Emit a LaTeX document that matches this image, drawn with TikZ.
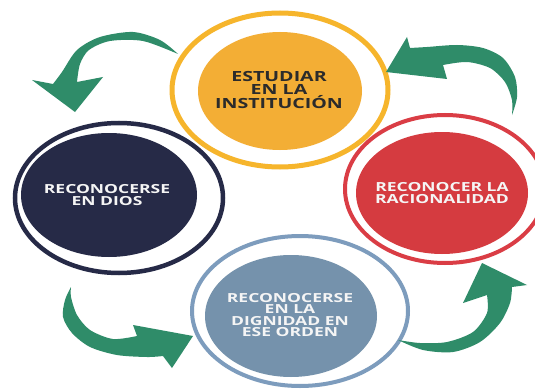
\documentclass[tikz,border=0pt]{standalone}
\usepackage{fontspec}
\newfontfamily\lblfont{Open Sans}[FakeStretch=1.4]

\definecolor{naranja}{HTML}{F3AE35}
\definecolor{naranjaring}{HTML}{F6B52C}
\definecolor{marino}{HTML}{262A47}
\definecolor{rojo}{HTML}{D53B40}
\definecolor{rojoring}{HTML}{DA3D45}
\definecolor{pizarra}{HTML}{7592AC}
\definecolor{pizarraring}{HTML}{7D9CBD}
\definecolor{verde}{HTML}{2F8C69}
\definecolor{oscuro}{HTML}{2B2B2B}

\tikzset{
  ring/.style={line width=4pt},
  bend arrow/.style={fill=verde}
}

\begin{document}
\begin{tikzpicture}[x=1pt, y=1pt]
  \useasboundingbox (0,0) rectangle (535,389);
  \fill[white] (0,0) rectangle (535,389);

  % Discs and rings
  \fill[naranja] (280,298) ellipse [x radius=82, y radius=59];
  \draw[ring, naranjaring, line width=5pt] (280,299) ellipse [x radius=108, y radius=77];

  \fill[marino] (109,194) ellipse [x radius=88, y radius=62];
  \draw[ring, marino, line width=4.5pt] (119,191) ellipse [x radius=104, y radius=75];

  \fill[rojo] (442,196) ellipse [x radius=86, y radius=61];
  \draw[ring, rojoring] (445,200) ellipse [x radius=100, y radius=74];

  \fill[pizarra] (291,73) ellipse [x radius=86, y radius=61];
  \draw[ring, pizarraring] (300,78) ellipse [x radius=108, y radius=75];

  % Labels
  \begin{scope}[every node/.style={align=center, inner sep=0pt, text=white!96!black,
      font=\lblfont\bfseries\fontsize{12.5}{11.5}\selectfont}]
    \node[text=oscuro, font=\lblfont\bfseries\fontsize{14}{12.5}\selectfont] (estudiar) at (279,299) {ESTUDIAR\\EN LA\\INSTITUCIÓN};
    \node (dios) at (107,194) {RECONOCERSE\\EN DIOS};
    \node (racionalidad) at (442,196) {RECONOCER LA\\RACIONALIDAD};
    \node (dignidad) at (290,74) {RECONOCERSE\\EN LA\\DIGNIDAD EN\\ESE ORDEN};
  \end{scope}

  % Arrows
  \fill[bend arrow] plot[smooth] coordinates {(178,335) (160,349) (133,357) (100,352) (77,339) (62,317) (53,305)}
    -- (32,309) -- (75,277) -- (103,312) -- (77,307)
    -- plot[smooth] coordinates {(77,307) (80,325) (89,339) (110,348) (143,348) (178,335)} -- cycle;

  \fill[bend arrow] plot[smooth] coordinates {(512,274) (517,292) (515,312) (503,331) (483,341) (457,344) (427,342) (410,341)}
    -- (407,352) -- (386,317) -- (447,310) -- (443,324)
    -- plot[smooth] coordinates {(443,324) (467,327) (490,321) (505,307) (512,289) (512,274)} -- cycle;

  \fill[bend arrow] plot[smooth] coordinates {(71,102) (65,89) (63,72) (72,56) (90,42) (117,34) (147,32) (163,33)}
    -- (172,21) -- (193,53) -- (133,64) -- (137,53)
    -- plot[smooth] coordinates {(137,53) (113,50) (90,59) (77,74) (71,92) (71,102)} -- cycle;

  \fill[bend arrow] plot[smooth] coordinates {(398,49) (423,39) (453,37) (480,47) (500,66) (510,86) (512,102)}
    -- (527,104) -- (482,126) -- (463,86) -- (487,94)
    -- plot[smooth] coordinates {(487,94) (487,76) (473,57) (447,47) (420,46) (398,49)} -- cycle;
\end{tikzpicture}
\end{document}
